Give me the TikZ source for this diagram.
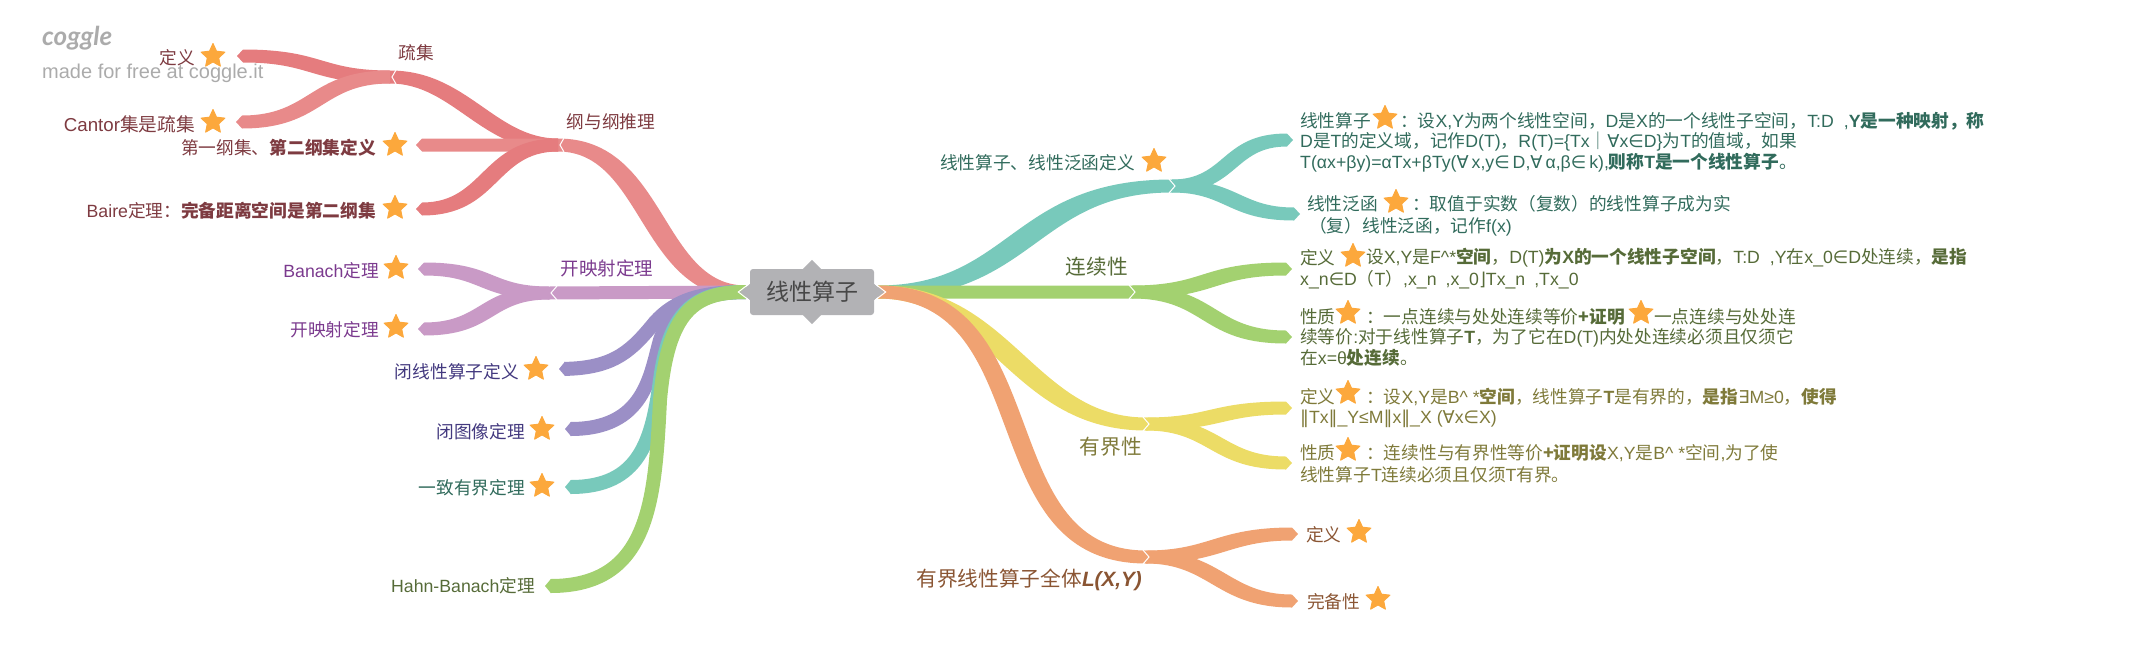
\documentclass[tikz,border=0pt]{standalone}
\usepackage{fontspec}
\setmainfont{Noto Sans CJK SC}
\newfontfamily\latf{Liberation Sans}
\newfontfamily\symf{DejaVu Sans}
\newfontfamily\logof{Lato}
\newcommand{\La}[1]{{\latf #1}}
\newcommand{\Sy}[1]{{\symf #1}}
\usetikzlibrary{arrows.meta,shapes.geometric}
\definecolor{cred}{HTML}{E88A8A}\definecolor{credd}{HTML}{E57C7E}
\definecolor{cpur}{HTML}{C99AC6}\definecolor{cind}{HTML}{9B8FC6}
\definecolor{ctea}{HTML}{78C9BB}\definecolor{cgrn}{HTML}{A3D170}
\definecolor{cyel}{HTML}{ECDC66}\definecolor{cora}{HTML}{F0A272}
\definecolor{cstar}{HTML}{FCA83C}\definecolor{croot}{HTML}{B2B2B5}
\definecolor{tred}{HTML}{7E3B41}\definecolor{tpur}{HTML}{7B3A8E}
\definecolor{tind}{HTML}{43397F}\definecolor{ttea}{HTML}{316B5C}
\definecolor{tgrn}{HTML}{566B38}\definecolor{tyel}{HTML}{7F7A3A}
\definecolor{tora}{HTML}{8A5533}\definecolor{tlogo}{HTML}{ABABAB}
% ribbon: colour, from, to, control dx at from, control dx at to, widening, tip length (signed)
\newcommand{\rib}[7]{\fill[#1] ([yshift=6.5pt]#2) .. controls +({#4+(#6)},0) and +({#5+(#6)},0) .. ([xshift={-(#7)*1pt},yshift=6.5pt]#3) -- (#3) -- ([xshift={-(#7)*1pt},yshift=-6.5pt]#3) .. controls +({#5-(#6)},0) and +({#4-(#6)},0) .. ([yshift=-6.5pt]#2) -- cycle;}
\tikzset{
 tipb/.style={line width=14pt,line cap=butt,-{Triangle[width=14pt,length=6pt]},#1},
 chev/.style={draw=white,line width=1pt,line join=miter},
 starn/.style={star,star points=5,star point ratio=2.1,fill=cstar,draw=cstar,line width=1pt,line join=round,inner sep=0pt,minimum size=25pt},
 lab/.style={inner sep=0pt,font=\fontsize{17.7}{20}\selectfont,text=#1},
 lw/.style={lab=#1,anchor=west},
 le/.style={lab=#1,anchor=east},
}
\begin{document}
\begin{tikzpicture}[x=1pt,y=-1pt]
\useasboundingbox (0,0) rectangle (2143,664);
% logo
\node[inner sep=0pt,text=tlogo,anchor=west] (logo) at (42,38) {\fontsize{26}{28}\selectfont\logof\bfseries\itshape coggle};
\node[inner sep=0pt,text=tlogo,anchor=west] (made) at (42,73) {\fontsize{20}{22}\selectfont\latf made for free at coggle.it};
% anchors
\coordinate (rL) at (746,292);\coordinate (rR) at (878,292);
\coordinate (jSparse) at (390,77);\coordinate (jNow) at (558,145);\coordinate (jOpen) at (549,293);
\coordinate (a1) at (237,56);\coordinate (a2) at (236,122);\coordinate (a3) at (416,145);\coordinate (a4) at (416,209);
\coordinate (a5) at (418,269);\coordinate (a6) at (418,329);\coordinate (a7) at (559,369);\coordinate (a8) at (565,429);
\coordinate (a9) at (565,487);\coordinate (a10) at (545,586);
\coordinate (jLin) at (1172,186);\coordinate (jCon) at (1132,292);\coordinate (jBd) at (1146,424);\coordinate (jAll) at (1146,557);
\coordinate (b1) at (1293,140);\coordinate (b2) at (1300,214);\coordinate (b3) at (1292,269);\coordinate (b4) at (1292,337);
\coordinate (b5) at (1292,408);\coordinate (b6) at (1292,463);\coordinate (b7) at (1298,534);\coordinate (b8) at (1298,601);
% left connectors
\rib{credd}{jSparse}{a1}{-75}{75}{5}{-6}
\rib{cred}{jSparse}{a2}{-75}{75}{-6}{-6}
\rib{cred}{rL}{jNow}{-96}{97}{11}{0}
\rib{credd}{jNow}{jSparse}{-70}{70}{7}{0}
\rib{cred}{jNow}{a3}{0}{0}{0}{-6}
\rib{credd}{jNow}{a4}{-70}{70}{-7}{-6}
\rib{cpur}{rL}{jOpen}{0}{0}{0}{0}
\rib{cpur}{jOpen}{a5}{-65}{65}{6}{-6}
\rib{cpur}{jOpen}{a6}{-65}{65}{-6}{-6}
\draw[tipb=cind] (rL) .. controls (700,292) and (675,300) .. (655,322) .. controls (632,350) and (615,368) .. (a7);
\draw[tipb=cind] (rL) .. controls (700,292) and (672,305) .. (660,340) .. controls (650,375) and (645,429) .. (a8);
\draw[tipb=ctea] (rL) .. controls (700,292) and (670,305) .. (660,380) .. controls (652,440) and (640,487) .. (a9);
\draw[tipb=cgrn] (rL) .. controls (695,292) and (668,310) .. (660,400) .. controls (655,500) and (650,586) .. (a10);
% right connectors
\rib{ctea}{rR}{jLin}{145}{-149}{-12}{0}
\rib{ctea}{jLin}{b1}{60}{-60}{-6}{6}
\rib{ctea}{jLin}{b2}{60}{-60}{6}{6}
\rib{cgrn}{rR}{jCon}{0}{0}{0}{0}
\rib{cgrn}{jCon}{b3}{80}{-80}{-6}{6}
\rib{cgrn}{jCon}{b4}{80}{-80}{6}{6}
\rib{cyel}{rR}{jBd}{122}{-123}{11}{0}
\rib{cyel}{jBd}{b5}{70}{-70}{-6}{6}
\rib{cyel}{jBd}{b6}{70}{-70}{6}{6}
\rib{cora}{rR}{jAll}{172}{-166}{10}{0}
\rib{cora}{jAll}{b7}{70}{-70}{-6}{6}
\rib{cora}{jAll}{b8}{70}{-70}{6}{6}
% chevrons at junctions
\draw[chev] ([xshift=6pt,yshift=7pt]jSparse) -- ([xshift=2pt]jSparse) -- ([xshift=6pt,yshift=-7pt]jSparse);
\draw[chev] ([xshift=6pt,yshift=7pt]jNow) -- ([xshift=2pt]jNow) -- ([xshift=6pt,yshift=-7pt]jNow);
\draw[chev] ([xshift=8pt,yshift=7pt]jOpen) -- ([xshift=2pt]jOpen) -- ([xshift=8pt,yshift=-7pt]jOpen);
\draw[chev] ([xshift=-3pt,yshift=7pt]jLin) -- ([xshift=3pt]jLin) -- ([xshift=-3pt,yshift=-7pt]jLin);
\draw[chev] ([xshift=-3pt,yshift=7pt]jCon) -- ([xshift=3pt]jCon) -- ([xshift=-3pt,yshift=-7pt]jCon);
\draw[chev] ([xshift=-3pt,yshift=7pt]jBd) -- ([xshift=3pt]jBd) -- ([xshift=-3pt,yshift=-7pt]jBd);
\draw[chev] ([xshift=-3pt,yshift=7pt]jAll) -- ([xshift=3pt]jAll) -- ([xshift=-3pt,yshift=-7pt]jAll);
% root
\node[fill=croot,rounded corners=3pt,minimum width=124pt,minimum height=46pt,inner sep=0pt,text=black!72,font=\fontsize{23}{25}\selectfont] (root) at (812,292) {线性算子};
\fill[croot] ([xshift=-9pt]root.north) -- ([yshift=9pt]root.north) -- ([xshift=9pt]root.north) -- cycle;
\fill[croot] ([xshift=-9pt]root.south) -- ([yshift=-9pt]root.south) -- ([xshift=9pt]root.south) -- cycle;
\fill[croot] ([yshift=-8pt]root.west) -- ([xshift=-10pt]root.west) -- ([yshift=8pt]root.west) -- cycle;
\fill[croot] ([yshift=-8pt]root.east) -- ([xshift=10pt]root.east) -- ([yshift=8pt]root.east) -- cycle;
\draw[chev] ([yshift=-8pt,xshift=-1pt]root.west) -- ([xshift=-11.5pt]root.west) -- ([yshift=8pt,xshift=-1pt]root.west);
\draw[chev] ([yshift=-8pt,xshift=1pt]root.east) -- ([xshift=11.5pt]root.east) -- ([yshift=8pt,xshift=1pt]root.east);
% left labels
\node[le=tred] (l1) at (195,58) {定义};\node[starn] (s1) at (213,56) {};
\node[le=tred,font=\fontsize{18.7}{20}\selectfont] (l2) at (195,124) {\La{Cantor}集是疏集};\node[starn] (s2) at (213,122) {};
\node[le=tred] (l3) at (376,148) {第一纲集、\textbf{第二纲集定义}};\node[starn] (s3) at (395,145) {};
\node[le=tred] (l4) at (376,211) {\La{Baire}定理：\textbf{完备距离空间是第二纲集}};\node[starn] (s4) at (395,208) {};
\node[lab=tred] (l5) at (416,53) {疏集};
\node[lab=tred] (l6) at (611,122) {纲与纲推理};
\node[le=tpur] (l7) at (379,271) {\La{Banach}定理};\node[starn] (s7) at (396,268) {};
\node[le=tpur] (l8) at (379,330) {开映射定理};\node[starn] (s8) at (396,327) {};
\node[lab=tpur,font=\fontsize{18.5}{20}\selectfont] (l9) at (607,268) {开映射定理};
\node[le=tind] (l10) at (519,372) {闭线性算子定义};\node[starn] (s10) at (536,369) {};
\node[le=tind] (l11) at (525,432) {闭图像定理};\node[starn] (s11) at (542,429) {};
\node[le=ttea] (l12) at (525,488) {一致有界定理};\node[starn] (s12) at (542,486) {};
\node[le=tgrn] (l13) at (535,586) {\La{Hahn-Banach}定理};
% right labels, first level
\node[le=ttea] (r1) at (1135,163) {线性算子、线性泛函定义};\node[starn] (t1) at (1154,161) {};
\node[lab=tgrn,font=\fontsize{20.7}{22}\selectfont] (r2) at (1097,267) {连续性};
\node[lab=tyel,font=\fontsize{20.7}{22}\selectfont] (r3) at (1111,447) {有界性};
\node[le=tora,font=\fontsize{20.7}{22}\selectfont] (r4) at (1142,580) {有界线性算子全体\textbf{\textit{\La{L(X,Y)}}}};
% right labels, leaves
\node[lw=ttea] (q1) at (1300,121) {线性算子};\node[starn] (u1) at (1385,118) {};
\node[lw=ttea] (q2) at (1400,121) {：设\La{X,Y}为两个线性空间，\La{D}是\La{X}的一个线性子空间，\La{T:D}\hspace{10pt}\La{,}\textbf{\La{Y}是一种映射，称}};
\node[lw=ttea] (q3) at (1300,142) {\La{D}是\La{T}的定义域，记作\La{D(T)}，\La{R(T)=\{Tx}│\Sy{∀}\La{x}\Sy{∈}\La{D\}}为\La{T}的值域，如果};
\node[lw=ttea] (q4) at (1300,163) {\La{T(αx+βy)=αTx+βTy(}\Sy{∀}\hspace{3pt}\La{x,y}\Sy{∈}\hspace{3pt}\La{D,}\Sy{∀}\hspace{3pt}\La{α,β}\Sy{∈}\hspace{3pt}\La{k),}\textbf{则称\La{T}是一个线性算子}。};
\node[lw=ttea] (q5) at (1307,204) {线性泛函};\node[starn] (u5) at (1396,202) {};
\node[lw=ttea] (q6) at (1412,204) {：取值于实数（复数）的线性算子成为实};
\node[lw=ttea] (q7) at (1309,227) {（复）线性泛函，记作\La{f(x)}};
\node[lw=tgrn] (q8) at (1300,258) {定义};\node[starn] (u8) at (1353,256) {};
\node[lw=tgrn] (q9) at (1366,258) {设\La{X,Y}是\La{F\^{}*}\textbf{空间}，\La{D(T)}\textbf{为\La{X}的一个线性子空间}，\La{T:D}\hspace{10pt}\La{,Y}在\La{x\_0}\Sy{∈}\La{D}处连续，\textbf{是指}};
\node[lw=tgrn] (q10) at (1300,280) {\La{x\_n}\Sy{∈}\La{D}（\La{T}）\La{,x\_n}\hspace{9pt}\La{,x\_0}\Sy{⌋}\La{Tx\_n}\hspace{9pt}\La{,Tx\_0}};
\node[lw=tgrn] (q11) at (1300,317) {性质};\node[starn] (u11) at (1348,313) {};
\node[lw=tgrn] (q12) at (1366,317) {：一点连续与处处连续等价\textbf{+证明}};\node[starn] (u12) at (1641,313) {};
\node[lw=tgrn] (q13) at (1654,317) {一点连续与处处连};
\node[lw=tgrn] (q14) at (1300,338) {续等价\La{:}对于线性算子\textbf{\La{T}}，为了它在\La{D(T)}内处处连续必须且仅须它};
\node[lw=tgrn] (q15) at (1300,358) {在\La{x=θ}\textbf{处连续}。};
\node[lw=tyel] (q16) at (1300,397) {定义};\node[starn] (u16) at (1348,393) {};
\node[lw=tyel] (q17) at (1366,397) {：设\La{X,Y}是\La{B\^{} *}\textbf{空间}，线性算子\textbf{\La{T}}是有界的，\textbf{是指}\Sy{∃}\La{M≥0}，\textbf{使得}};
\node[lw=tyel] (q18) at (1300,419) {\Sy{‖}\La{Tx}\Sy{‖}\La{\_Y≤M}\Sy{‖}\La{x}\Sy{‖}\La{\_X (}\Sy{∀}\La{x}\Sy{∈}\La{X)}};
\node[lw=tyel] (q19) at (1300,453) {性质};\node[starn] (u19) at (1348,450) {};
\node[lw=tyel] (q20) at (1366,453) {：连续性与有界性等价\textbf{+证明设}\La{X,Y}是\La{B\^{} *}空间\La{,}为了使};
\node[lw=tyel] (q21) at (1300,475) {线性算子\La{T}连续必须且仅须\La{T}有界。};
\node[lw=tora] (q22) at (1306,535) {定义};\node[starn] (u22) at (1359,532) {};
\node[lw=tora] (q23) at (1307,602) {完备性};\node[starn] (u23) at (1378,599) {};
\end{tikzpicture}
\end{document}
